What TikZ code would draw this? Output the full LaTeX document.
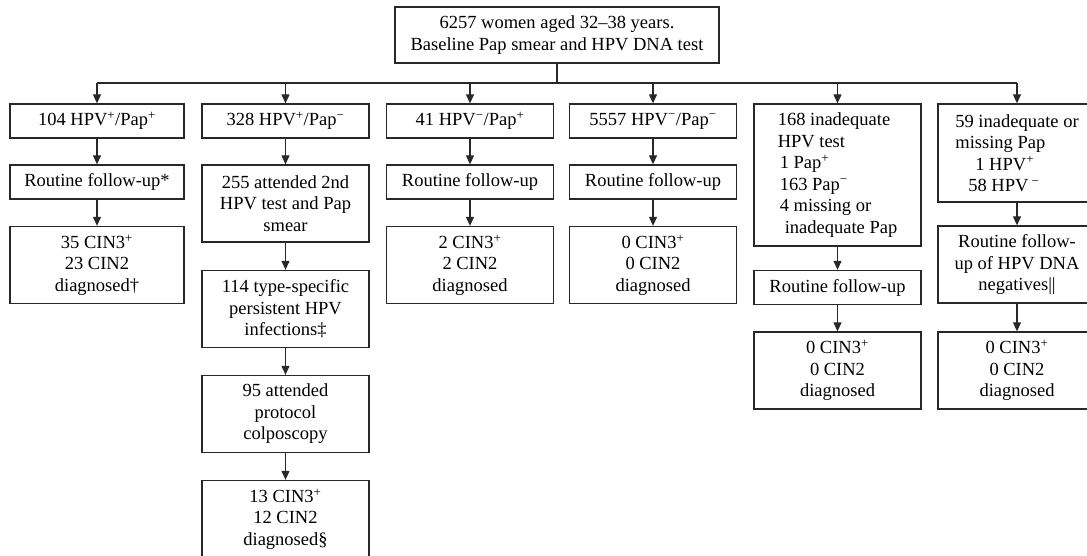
\documentclass[tikz,border=0pt]{standalone}
\usepackage{fontspec}
\setmainfont{Liberation Serif}
\usepackage{tikz}
\usetikzlibrary{arrows.meta}
\definecolor{cLine}{RGB}{40,40,40}
\newcommand{\up}{\textsuperscript{+}}
\newcommand{\dn}{\textsuperscript{−}}
\tikzset{
	box/.style ={rectangle, draw=cLine, line width=1.3pt, align=center, inner sep=2pt, minimum height=34pt},
	boxa/.style={box, minimum width=167pt},
	tall/.style={minimum height=77pt},
	sig/.style ={-{Triangle[length=9pt, width=8pt]}, line width=1.1pt, cLine},
}

\begin{document}
\begin{tikzpicture}[x=1pt, y=-1pt, font=\fontsize{18.5}{21.5}\selectfont]
	\useasboundingbox (0,0) rectangle (1087,556);
	% top box and bus
	\node[box, minimum width=324pt, minimum height=56pt] (top) at (557,35) {6257 women aged 32–38 years.\\Baseline Pap smear and HPV DNA test};
	\coordinate (bus) at (557,83);
	% column 1
	\node[box, minimum width=174pt] (a1) at (97,121) {104 HPV\up/Pap\up};
	\node[box, minimum width=174pt] (a2) at (97,182) {Routine follow-up*};
	\node[box, minimum width=174pt, tall] (a3) at (97,265) {35 CIN3\up\\23 CIN2\\diagnosed†};
	% column 2
	\node[boxa] (b1) at (285.5,121) {328 HPV\up/Pap\dn};
	\node[boxa, tall] (b2) at (285.5,203.5) {255 attended 2nd\\HPV test and Pap\\smear};
	\node[boxa, tall] (b3) at (285.5,309) {114 type-specific\\persistent HPV\\infections‡};
	\node[boxa, tall] (b4) at (285.5,414) {95 attended\\protocol\\colposcopy};
	\node[boxa, tall] (b5) at (285.5,519) {13 CIN3\up\\12 CIN2\\diagnosed§};
	% column 3
	\node[boxa] (c1) at (470,121) {41 HPV\dn/Pap\up};
	\node[boxa] (c2) at (470,182) {Routine follow-up};
	\node[boxa, tall] (c3) at (470,265) {2 CIN3\up\\2 CIN2\\diagnosed};
	% column 4
	\node[boxa] (d1) at (653,121) {5557 HPV\dn/Pap\dn};
	\node[boxa] (d2) at (653,182) {Routine follow-up};
	\node[boxa, tall] (d3) at (653,265) {0 CIN3\up\\0 CIN2\\diagnosed};
	% column 5
	\node[boxa, minimum height=142pt, align=left] (e1) at (837.5,175) {168 inadequate\\HPV test\\\hspace*{2pt}1 Pap\up\\\hspace*{2pt}163 Pap\dn\\\hspace*{2pt}4 missing or\\\hspace*{7pt}inadequate Pap};
	\node[boxa] (e2) at (837.5,287.5) {Routine follow-up};
	\node[boxa, tall] (e3) at (837.5,370.5) {0 CIN3\up\\0 CIN2\\diagnosed};
	% column 6
	\node[box, minimum width=158pt, minimum height=98pt, align=left] (f1) at (1017,153) {59 inadequate or\\missing Pap\\\hspace*{20pt}1 HPV\up\\\hspace*{13pt}58 HPV\,\dn};
	\node[box, minimum width=158pt, tall] (f2) at (1017,264.5) {Routine follow-\\up of HPV DNA\\negatives||};
	\node[box, minimum width=158pt, tall] (f3) at (1017,370.5) {0 CIN3\up\\0 CIN2\\diagnosed};
	% connectors
	\draw[line width=1.1pt, cLine] (top.south) -- (bus);
	\draw[line width=1.1pt, cLine] (bus -| a1.north) -- (bus -| f1.north);
	\foreach \n in {a1,b1,c1,d1,e1,f1}
		\draw[sig] (bus -| \n.north) -- (\n.north);
	\foreach \p/\q in {a1/a2,a2/a3,b1/b2,b2/b3,b3/b4,b4/b5,c1/c2,c2/c3,d1/d2,d2/d3,e1/e2,e2/e3,f1/f2,f2/f3}
		\draw[sig] (\p) -- (\q);
\end{tikzpicture}
\end{document}
